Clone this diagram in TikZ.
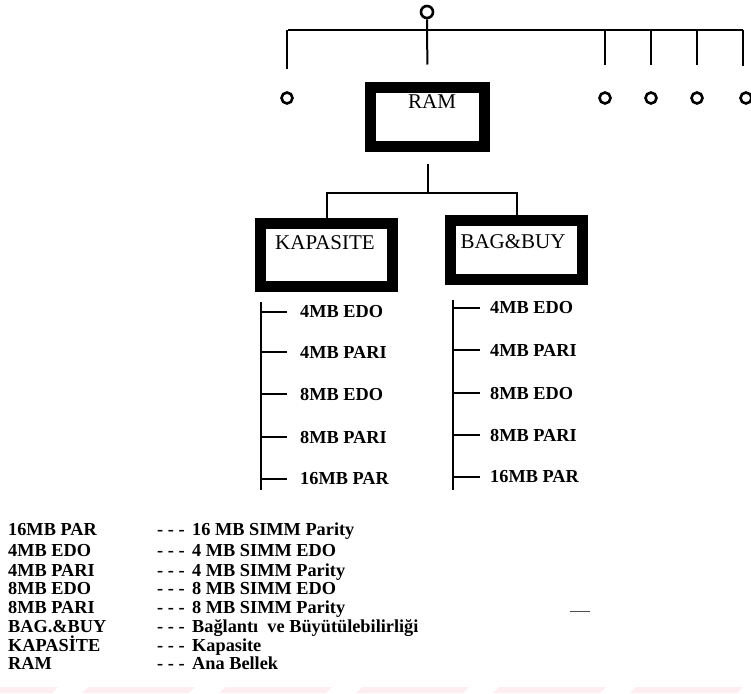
\documentclass[tikz,border=0pt]{standalone}
\usepackage{fontspec}
\setmainfont{Liberation Serif}
\definecolor{scanpink}{RGB}{254,238,242}
\begin{document}
\begin{tikzpicture}[x=1pt,y=-1pt,
  wire/.style={line width=2pt},
  bigbox/.style={draw, line width=11pt, inner sep=0pt},
  dot/.style={circle, draw, line width=2.6pt, minimum size=11pt, inner sep=0pt},
  boxtxt/.style={font=\fontsize{21}{23}\selectfont, inner sep=0pt},
  item/.style={font=\bfseries\fontsize{18.3}{19}\selectfont, anchor=west, inner sep=0pt},
  leg/.style={font=\bfseries\fontsize{18.3}{19}\selectfont, anchor=base west, inner sep=0pt},
]
\useasboundingbox (0,0) rectangle (751,693);
\clip (0,0) rectangle (751,693);

% faint scan bars at the bottom
\foreach \s in {-55,82,219,356,493,630}{
  \fill[scanpink] (\s+6,687) -- (\s+113,687) -- (\s+107,693) -- (\s,693) -- cycle;
}

% top circles and bus
\node[dot, minimum size=12pt] (top) at (427,12) {};
\node[dot] (c1) at (287,98) {};
\node[dot] (c2) at (605,98) {};
\node[dot] (c3) at (651,98) {};
\node[dot] (c4) at (697,98) {};
\node[dot] (c5) at (746,98) {};
\coordinate (busL) at (288,30);
\coordinate (busR) at (743,30);
\draw[wire] (busL) -- (busR);
\draw[wire, shorten >=22] (c1.north |- busL) -- (c1.north);
\foreach \c in {c2,c3,c4}{
  \draw[wire, shorten >=26] (\c.north |- busL) -- (\c.north);
}
\draw[wire, shorten >=26] (743,30) -- (743,92);

% boxes
\node[bigbox, minimum width=114pt, minimum height=59pt] (ram) at (427.5,117) {};
\node[boxtxt] (ramt) at (432,102) {RAM};
\node[bigbox, minimum width=132pt, minimum height=63pt] (kap) at (326.5,255) {};
\node[boxtxt] (kapt) at (325,243) {KAPASITE};
\node[bigbox, minimum width=132pt, minimum height=59pt] (bag) at (516.5,250) {};
\node[boxtxt] (bagt) at (513,242) {BAG\&BUY};

% connectors
\draw[wire, shorten >=17.5] (top.south) -- (ram.north);
\coordinate (jl) at (325,193);
\draw[wire, shorten <=11.5] (ram.south) -- (ram.south |- jl);
\draw[wire] (kap.north) -- (kap.north |- jl) -| (bag.north);

% left list
\coordinate (sL1) at (261,302);
\coordinate (sL2) at (261,490);
\draw[wire] (sL1) -- (sL2);
\node[item] (l1) at (300,312) {4MB EDO};
\node[item] (l2) at (300,352) {4MB PARI};
\node[item] (l3) at (300,394) {8MB EDO};
\node[item] (l4) at (300,437) {8MB PARI};
\node[item] (l5) at (300,479) {16MB PAR};
\foreach \n in {l1,l2,l3,l4,l5}{
  \draw[wire, shorten >=13] (\n.west -| sL1) -- (\n.west);
}

% right list
\coordinate (sR1) at (453,300);
\coordinate (sR2) at (453,490);
\draw[wire] (sR1) -- (sR2);
\node[item] (r1) at (490,308) {4MB EDO};
\node[item] (r2) at (490,350) {4MB PARI};
\node[item] (r3) at (490,393) {8MB EDO};
\node[item] (r4) at (490,435) {8MB PARI};
\node[item] (r5) at (490,477) {16MB PAR};
\foreach \n in {r1,r2,r3,r4,r5}{
  \draw[wire, shorten >=10] (\n.west -| sR1) -- (\n.west);
}

% legend
\node[leg] (a1) at (8,535) {16MB PAR};
\node[leg] (a2) at (8,556) {4MB EDO};
\node[leg] (a3) at (8,576) {4MB PARI};
\node[leg] (a4) at (8,594) {8MB EDO};
\node[leg] (a5) at (8,613) {8MB PARI};
\node[leg] (a6) at (8,632) {BAG.\&BUY};
\node[leg] (a7) at (8,651) {KAPASİTE};
\node[leg] (a8) at (8,669) {RAM};
\foreach \n/\y in {d1/535,d2/556,d3/576,d4/594,d5/613,d6/632,d7/651,d8/669}{
  \node[leg] (\n) at (157,\y) {- - -};
}
\node[leg] (b1) at (192,535) {16 MB SIMM Parity};
\node[leg] (b2) at (192,556) {4 MB SIMM EDO};
\node[leg] (b3) at (192,576) {4 MB SIMM Parity};
\node[leg] (b4) at (192,594) {8 MB SIMM EDO};
\node[leg] (b5) at (192,613) {8 MB SIMM Parity};
\node[leg] (b6) at (192,632) {Bağlantı\ \ ve Büyütülebilirliği};
\node[leg] (b7) at (192,651) {Kapasite};
\node[leg] (b8) at (192,669) {Ana Bellek};

% stray mark
\draw[line width=1pt, black!70] (570,611) -- (590,611);
\end{tikzpicture}
\end{document}
